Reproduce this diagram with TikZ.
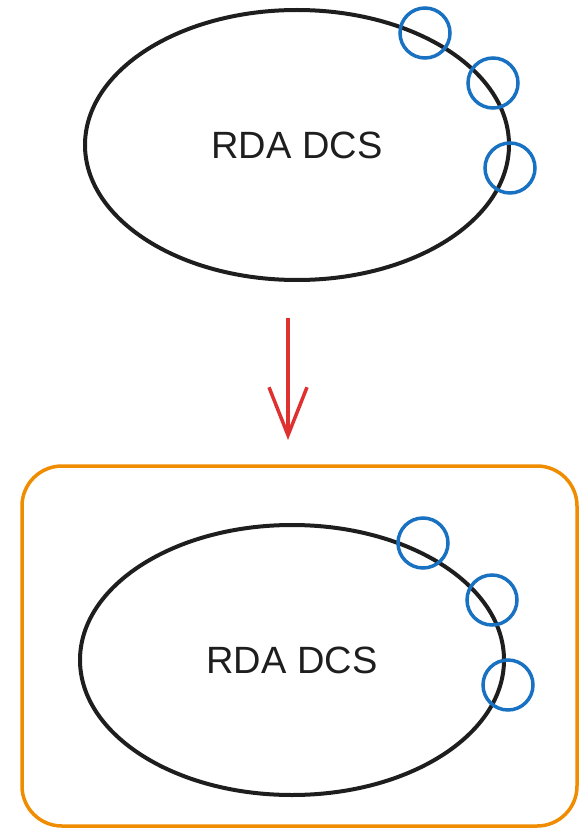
\documentclass[tikz,border=0pt]{standalone}
\usepackage{fontspec}
\setmainfont{Liberation Sans}
\usetikzlibrary{shapes.geometric,arrows.meta}
\definecolor{pen}{HTML}{1E1E1E}
\definecolor{portblue}{HTML}{1971C2}
\definecolor{flowred}{HTML}{E03131}
\definecolor{boxorange}{HTML}{F08C00}

\begin{document}
\begin{tikzpicture}[x=1pt, y=-1pt,
    dcsblob/.style={ellipse, draw=pen, line width=4pt, inner sep=0pt,
        minimum width=424pt, minimum height=270pt,
        font=\fontsize{38}{44}\selectfont, text=pen},
    port/.style={circle, draw=portblue, line width=3.5pt, minimum size=50pt, inner sep=0pt},
    flow/.style={draw=flowred, line width=3.5pt,
        -{Straight Barb[length=48pt, width=38pt, line width=3.5pt]}}]
    \useasboundingbox (0,0) rectangle (579,829);
    % before
    \node[dcsblob] (dcsold) at (297,145) {RDA DCS};
    \foreach \px/\py/\pname in {425/33/a, 493/83/b, 510/168/c}
        \node[port] (old\pname) at (\px,\py) {};
    % after, wrapped in a box
    \draw[boxorange, line width=3.5pt, rounded corners=40pt] (22,466) rectangle (577,826);
    \node[dcsblob] (dcsnew) at (292,660) {RDA DCS};
    \foreach \px/\py/\pname in {423/543/a, 492/600/b, 508/685/c}
        \node[port] (new\pname) at (\px,\py) {};
    \coordinate (flowtop) at (288,318);
    \coordinate (flowend) at (288,440);
    \draw[flow] (flowtop) -- (flowend);
\end{tikzpicture}
\end{document}
